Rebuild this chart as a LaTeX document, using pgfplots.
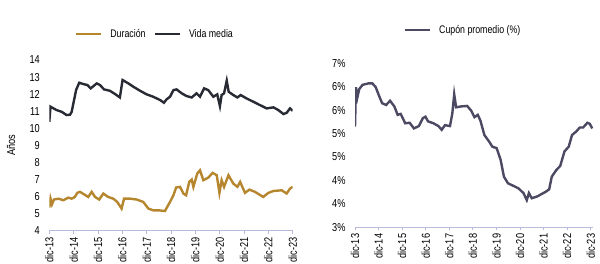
\documentclass[border=0pt]{standalone}
\usepackage{pgfplots}
\pgfplotsset{compat=1.18}
\usepackage{fontspec}
\setmainfont[FakeStretch=0.8]{Liberation Sans}
\definecolor{dur}{RGB}{182,134,46}
\definecolor{vida}{RGB}{40,42,52}
\definecolor{cup}{RGB}{76,74,98}
\definecolor{axl}{RGB}{185,185,220}
\pgfplotsset{
  base/.style={
    scale only axis,
    axis y line*=left,
    axis x line*=bottom,
    y axis line style={draw=none},
    x axis line style={axl, line width=1pt},
    xmin=0,
    xtick={0,1,2,3,4,5,6,7,8,9,10},
    xticklabels={dic-13,dic-14,dic-15,dic-16,dic-17,dic-18,dic-19,dic-20,dic-21,dic-22,dic-23},
    x tick label style={rotate=90, anchor=east, font=\fontsize{11.5}{13}\selectfont},
    y tick label style={font=\fontsize{11.5}{13}\selectfont, xshift=-6pt},
    /pgf/number format/assume math mode=true,
    xtick style={axl, line width=0.8pt},
    xtick align=outside,
    major tick length=3pt,
    ytick style={draw=none},
    tick label style={black},
    legend style={draw=none, fill=none, font=\fontsize{11}{13}\selectfont, column sep=6pt},
    legend cell align=left,
    legend image code/.code={\draw[#1, line width=2.4pt] (0pt,0pt) -- (25pt,0pt);},
  }
}
\begin{document}
\begin{tikzpicture}
\useasboundingbox (0,0) rectangle (600pt,264pt);
\begin{axis}[base,
  at={(49.3pt,33pt)}, anchor=south west,
  width=243.4pt, height=171pt,
  xmax=10, ymin=4, ymax=14, ytick={4,5,...,14},
  ylabel={Años}, ylabel style={font=\fontsize{11.5}{13}\selectfont, at={(axis description cs:-0.125,0.5)}},
  legend columns=2,
  legend style={at={(0.434,1.152)}, anchor=center},
]
\addplot[dur, line width=2.4pt] coordinates {
(0,5.37)(0.05,5.89)(0.11,5.56)(0.19,5.84)(0.37,5.89)(0.58,5.80)(0.78,5.95)(0.92,5.89)(1.05,5.99)(1.15,6.23)(1.26,6.29)(1.42,6.15)(1.60,5.99)(1.74,6.29)(1.88,5.99)(2.05,5.84)(2.22,6.19)(2.42,5.99)(2.63,5.89)(2.79,5.70)(2.97,5.31)(3.07,5.89)(3.32,5.89)(3.59,5.84)(3.86,5.70)(4.07,5.31)(4.27,5.21)(4.48,5.21)(4.75,5.17)(4.96,5.70)(5.10,6.09)(5.21,6.54)(5.37,6.58)(5.51,6.19)(5.62,6.09)(5.75,6.87)(5.85,7.01)(5.92,6.58)(6.08,7.36)(6.19,7.55)(6.33,6.97)(6.53,7.12)(6.71,7.40)(6.88,7.26)(6.99,6.23)(7.08,6.97)(7.18,6.58)(7.36,7.26)(7.56,6.77)(7.73,6.58)(7.84,6.87)(8.04,6.23)(8.22,6.42)(8.45,6.29)(8.79,5.99)(9.0,6.23)(9.21,6.34)(9.55,6.38)(9.75,6.19)(9.89,6.48)(10.0,6.58)
};
\addlegendentry{Duración}
\addplot[vida, line width=2.4pt] coordinates {
(0,10.39)(0.05,11.27)(0.30,11.07)(0.51,10.97)(0.71,10.78)(0.85,10.80)(0.92,10.97)(1.10,12.24)(1.23,12.67)(1.40,12.59)(1.56,12.54)(1.70,12.34)(1.95,12.63)(2.08,12.54)(2.25,12.28)(2.49,12.20)(2.70,12.01)(2.90,11.81)(3.01,12.83)(3.25,12.63)(3.45,12.44)(3.73,12.20)(4.0,11.99)(4.27,11.85)(4.55,11.66)(4.71,11.50)(4.82,11.70)(4.96,11.85)(5.10,12.24)(5.23,12.28)(5.44,12.05)(5.64,11.89)(5.85,11.81)(6.05,12.05)(6.19,11.85)(6.36,12.34)(6.53,12.24)(6.74,11.85)(6.90,11.99)(7.01,11.30)(7.08,11.95)(7.18,12.05)(7.29,12.79)(7.37,12.14)(7.56,11.95)(7.73,11.81)(7.86,11.95)(8.11,11.75)(8.38,11.56)(8.66,11.36)(8.93,11.17)(9.21,11.23)(9.41,11.07)(9.62,10.84)(9.75,10.91)(9.89,11.17)(10.0,11.03)
};
\addlegendentry{Vida media}
\end{axis}
\begin{axis}[base,
  at={(355pt,36.7pt)}, anchor=south west,
  width=238pt, height=164pt,
  xmax=10.1, ymin=3, ymax=6.5, ytick={3,3.5,...,6.5},
  yticklabels={3\%,4\%,4\%,5\%,5\%,6\%,6\%,7\%},
  legend style={at={(0.454,1.203)}, anchor=center},
]
\addplot[cup, line width=2.4pt] coordinates {
(0,5.15)(0.04,5.99)(0.10,5.77)(0.18,5.95)(0.32,6.04)(0.56,6.07)(0.74,6.07)(0.88,5.99)(1.01,5.82)(1.15,5.65)(1.32,5.61)(1.49,5.70)(1.67,5.58)(1.81,5.40)(1.94,5.42)(2.13,5.22)(2.32,5.23)(2.50,5.11)(2.71,5.16)(2.88,5.33)(2.99,5.36)(3.10,5.26)(3.33,5.22)(3.54,5.16)(3.68,5.08)(3.82,5.18)(4.03,5.16)(4.13,5.43)(4.21,5.84)(4.29,5.56)(4.51,5.58)(4.76,5.59)(4.93,5.49)(5.07,5.35)(5.21,5.40)(5.32,5.28)(5.49,4.97)(5.69,4.83)(5.83,4.72)(6.01,4.69)(6.18,4.44)(6.32,4.08)(6.49,3.94)(6.74,3.88)(6.94,3.83)(7.15,3.73)(7.29,3.58)(7.38,3.73)(7.50,3.62)(7.74,3.66)(7.92,3.71)(8.10,3.76)(8.24,3.81)(8.35,4.08)(8.54,4.22)(8.71,4.31)(8.89,4.62)(9.07,4.72)(9.21,4.97)(9.38,5.04)(9.54,5.13)(9.68,5.13)(9.86,5.23)(9.96,5.21)(10.07,5.11)
};
\addlegendentry{Cupón promedio (\%)}
\end{axis}
\end{tikzpicture}
\end{document}
